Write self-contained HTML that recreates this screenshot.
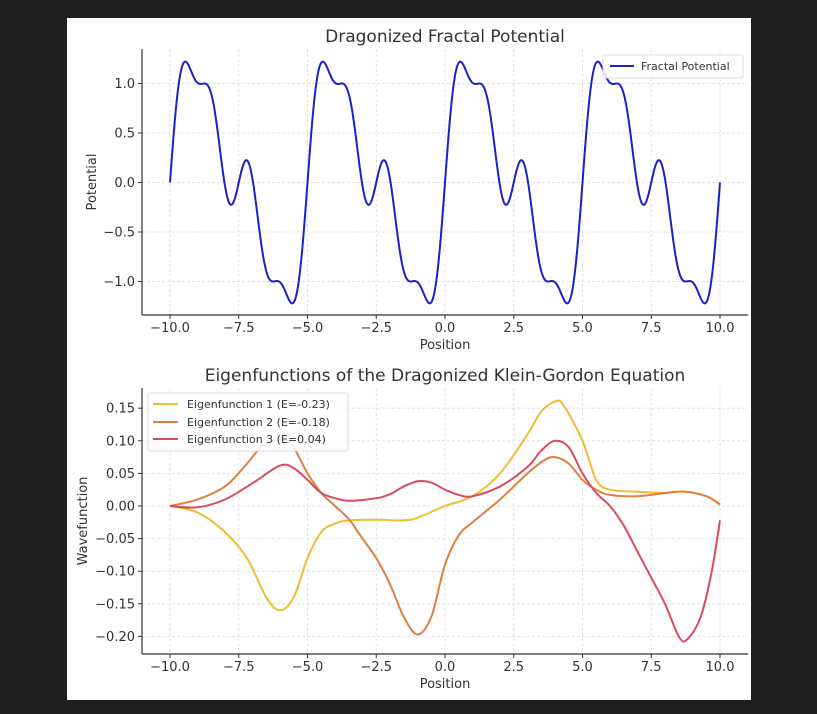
<!DOCTYPE html>
<html><head><meta charset="utf-8"><style>
body{margin:0;background:#1e1e1e;}
svg{display:block;font-family:"DejaVu Sans","Liberation Sans",sans-serif;}
</style></head><body>
<svg id="s" width="817" height="714" xmlns="http://www.w3.org/2000/svg">
<rect x="0" y="0" width="817" height="714" fill="#1e1e1e"/>
<rect x="67" y="18" width="684" height="682" fill="#fff"/>
<g id="g"></g>
<text x="445" y="42" font-size="17" fill="#333" text-anchor="middle">Dragonized Fractal Potential</text>
<text x="445" y="381" font-size="17" fill="#333" text-anchor="middle">Eigenfunctions of the Dragonized Klein-Gordon Equation</text>
<text x="445" y="349" font-size="13" fill="#333" text-anchor="middle">Position</text>
<text x="445" y="688" font-size="13" fill="#333" text-anchor="middle">Position</text>
<text transform="translate(96,182) rotate(-90)" font-size="13" fill="#333" text-anchor="middle">Potential</text>
<text transform="translate(87,521) rotate(-90)" font-size="13" fill="#333" text-anchor="middle">Wavefunction</text>
<rect x="603" y="55" width="140" height="23" fill="#fff" fill-opacity="0.85" stroke="#ddd" rx="2"/>
<line x1="610" y1="66" x2="634" y2="66" stroke="#1f1fc8" stroke-width="2"/>
<text x="641" y="70" font-size="11" fill="#333">Fractal Potential</text>
<rect x="148" y="393" width="200" height="58" fill="#fff" fill-opacity="0.85" stroke="#ddd" rx="2"/>
<line x1="153" y1="404" x2="178" y2="404" stroke="#f2bb34" stroke-width="2"/>
<line x1="153" y1="422" x2="178" y2="422" stroke="#e0803f" stroke-width="2"/>
<line x1="153" y1="439" x2="178" y2="439" stroke="#dc4a62" stroke-width="2"/>
<text x="187" y="408" font-size="11" fill="#333">Eigenfunction 1 (E=-0.23)</text>
<text x="187" y="426" font-size="11" fill="#333">Eigenfunction 2 (E=-0.18)</text>
<text x="187" y="443" font-size="11" fill="#333">Eigenfunction 3 (E=0.04)</text>
</svg>
<script>
var g=document.getElementById('g'),ns='http://www.w3.org/2000/svg';
function el(t,a){var e=document.createElementNS(ns,t);for(var k in a)e.setAttribute(k,a[k]);g.appendChild(e);return e;}
function px(x){return 170+27.5*(x+10);}
function axes(top,bot,yt,fy){
 for(var i=0;i<9;i++){var x=-10+2.5*i,X=px(x);
  el('line',{x1:X,y1:top,x2:X,y2:bot,stroke:'#ddd','stroke-dasharray':'3,2','stroke-width':0.8});
  el('line',{x1:X,y1:bot,x2:X,y2:bot+4,stroke:'#333'});
  var t=el('text',{x:X,y:bot+17,'font-size':13,fill:'#333','text-anchor':'middle'});t.textContent=x.toFixed(1).replace('-','\u2212');}
 yt.forEach(function(v){var Y=fy(v[0]);
  el('line',{x1:142,y1:Y,x2:748,y2:Y,stroke:'#ddd','stroke-dasharray':'3,2','stroke-width':0.8});
  el('line',{x1:138,y1:Y,x2:142,y2:Y,stroke:'#333'});
  var t=el('text',{x:135,y:Y+4.5,'font-size':13,fill:'#333','text-anchor':'end'});t.textContent=v[1];});
 el('line',{x1:142,y1:top,x2:142,y2:bot,stroke:'#333','stroke-width':1.2});
 el('line',{x1:142,y1:bot,x2:748,y2:bot,stroke:'#333','stroke-width':1.2});
}
var fy1=function(v){return 182.5-99*v;};
axes(49,315,[[1,'1.0'],[0.5,'0.5'],[0,'0.0'],[-0.5,'\u22120.5'],[-1,'\u22121.0']],fy1);
var fy2=function(v){return 506-652*v;};
axes(388,654,[[0.15,'0.15'],[0.1,'0.10'],[0.05,'0.05'],[0,'0.00'],[-0.05,'\u22120.05'],[-0.1,'\u22120.10'],[-0.15,'\u22120.15'],[-0.2,'\u22120.20']],fy2);
var d='';
for(var i=0;i<=1000;i++){var x=-10+20*i/1000,t=2*Math.PI*(x+10)/5,v=0;
 for(var n=0;n<3;n++)v+=Math.sin(Math.pow(2,n)*t)/Math.pow(2,n);
 d+=(i?'L':'M')+px(x).toFixed(2)+' '+fy1(v).toFixed(2);}
el('path',{d:d,fill:'none',stroke:'#1f1fc8','stroke-width':2});
function spline(P,c){var pts=P.map(function(p){return [px(p[0]),fy2(p[1])];});
 var d='M'+pts[0][0]+' '+pts[0][1];
 for(var i=0;i<pts.length-1;i++){var p0=pts[Math.max(i-1,0)],p1=pts[i],p2=pts[i+1],p3=pts[Math.min(i+2,pts.length-1)];
  d+='C'+(p1[0]+(p2[0]-p0[0])/6)+' '+(p1[1]+(p2[1]-p0[1])/6)+' '+(p2[0]-(p3[0]-p1[0])/6)+' '+(p2[1]-(p3[1]-p1[1])/6)+' '+p2[0]+' '+p2[1];}
 el('path',{d:d,fill:'none',stroke:c,'stroke-width':2});}
spline([[-10,0],[-9,-0.01],[-8,-0.04],[-7.2,-0.08],[-6.5,-0.14],[-6,-0.16],[-5.5,-0.14],[-5,-0.08],[-4.5,-0.04],[-4,-0.027],[-3.5,-0.022],[-2.5,-0.021],[-1.5,-0.022],[-1,-0.018],[0,0],[1,0.015],[2,0.05],[3,0.11],[3.5,0.145],[4,0.16],[4.3,0.155],[5,0.1],[5.5,0.04],[6,0.025],[7,0.022],[8,0.02],[8.7,0.022],[9.5,0.015],[10,0.003]],'#f2bb34');
spline([[-10,0],[-9,0.01],[-8,0.03],[-7.3,0.06],[-6.7,0.09],[-6.2,0.1],[-5.6,0.095],[-5,0.05],[-4.5,0.02],[-4,0],[-3.5,-0.02],[-3,-0.05],[-2.5,-0.08],[-2,-0.12],[-1.5,-0.17],[-1,-0.197],[-0.5,-0.17],[0,-0.09],[0.5,-0.045],[1,-0.025],[2,0.01],[3,0.05],[3.6,0.07],[4,0.075],[4.5,0.065],[5,0.04],[5.5,0.025],[6,0.017],[7,0.015],[8,0.02],[8.7,0.022],[9.5,0.015],[10,0.002]],'#e0803f');
spline([[-10,0],[-9,-0.002],[-8,0.01],[-7,0.035],[-6,0.062],[-5.5,0.058],[-5,0.04],[-4.5,0.02],[-4,0.012],[-3.5,0.008],[-2.5,0.012],[-2,0.018],[-1.5,0.03],[-1,0.038],[-0.5,0.036],[0,0.025],[0.5,0.017],[1,0.015],[2,0.03],[3,0.06],[3.5,0.085],[4,0.1],[4.5,0.09],[5,0.05],[5.5,0.02],[6,0],[6.5,-0.03],[7,-0.07],[7.5,-0.11],[8,-0.15],[8.5,-0.2],[8.8,-0.205],[9.3,-0.17],[9.7,-0.1],[10,-0.022]],'#dc4a62');
</script>
</body></html>
